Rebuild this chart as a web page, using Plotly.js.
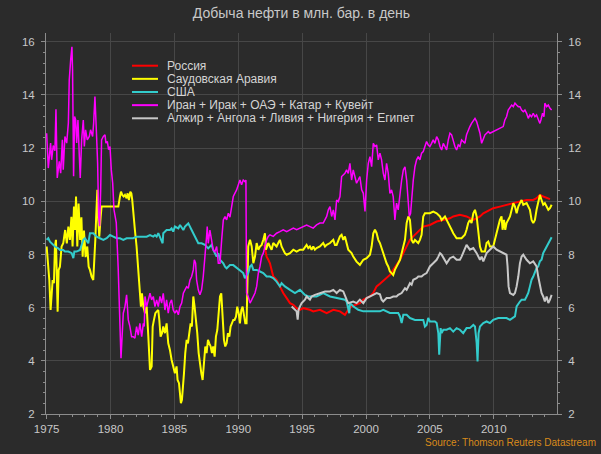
<!DOCTYPE html>
<html><head><meta charset="utf-8">
<script src="https://cdn.plot.ly/plotly-3.0.1.min.js"></script>
<style>html,body{margin:0;padding:0;background:#2b2b2b;}#chart{width:601px;height:454px;}</style>
</head><body><div id="chart"></div>
<script>
// ---- Data ----
const chartTitle = 'Добыча нефти в млн. бар. в день';
const sourceText = 'Source: Thomson Reuters Datastream';
const seriesNames = ['Россия', 'Саудовская Аравия', 'США', 'Иран + Ирак + ОАЭ + Катар + Кувейт', 'Алжир + Ангола + Ливия + Нигерия + Египет'];
const seriesColors = ['#ff0000', '#ffff00', '#33cccc', '#ff00ff', '#c8c8c8'];
const xTickYears = [1975, 1980, 1985, 1990, 1995, 2000, 2005, 2010];
const yTickValues = [2, 4, 6, 8, 10, 12, 14, 16];

const russiaYears = [1992.04,1992.22,1992.35,1992.48,1992.61,1992.74,1993.00,1993.26,1993.52,1993.79,1994.05,1994.31,1994.57,1994.83,1995.09,1995.61,1995.87,1996.39,1996.92,1997.44,1997.96,1998.35,1998.61,1998.87,1999.26,1999.52,1999.79,2000.05,2000.31,2000.57,2000.83,2001.09,2001.35,2001.61,2001.87,2002.13,2002.39,2002.66,2002.92,2003.18,2003.44,2003.70,2003.96,2004.22,2004.48,2005.00,2005.26,2005.53,2006.05,2006.57,2006.83,2007.35,2007.87,2008.13,2008.40,2008.66,2008.92,2009.18,2009.44,2009.70,2009.96,2010.48,2011.00,2011.53,2012.05,2012.57,2013.09,2013.35,2013.61,2013.87,2014.14,2014.40];
const russiaValues = [8.36,7.92,7.80,7.67,7.42,7.17,7.05,6.80,6.55,6.36,6.17,6.11,5.98,5.92,5.98,5.92,5.86,5.92,5.79,5.92,5.86,5.73,5.92,6.05,6.11,6.17,6.30,6.36,6.42,6.55,6.80,6.90,7.00,7.11,7.23,7.42,7.61,7.80,8.05,8.30,8.55,8.68,8.80,8.93,9.05,9.11,9.18,9.24,9.30,9.36,9.43,9.49,9.43,9.36,9.30,9.36,9.43,9.55,9.61,9.68,9.74,9.80,9.87,9.93,9.99,10.05,10.05,10.12,10.24,10.18,10.12,10.08];

const saudiYears = [1975.00,1975.13,1975.21,1975.31,1975.39,1975.47,1975.57,1975.65,1975.73,1975.78,1975.86,1975.94,1976.04,1976.17,1976.30,1976.45,1976.58,1976.70,1976.82,1976.94,1977.03,1977.14,1977.22,1977.30,1977.40,1977.50,1977.62,1977.72,1977.82,1977.92,1978.05,1978.18,1978.29,1978.39,1978.52,1978.65,1978.73,1978.81,1978.89,1978.97,1979.04,1979.12,1979.23,1979.30,1979.44,1980.00,1980.48,1980.61,1980.74,1980.82,1980.92,1981.03,1981.13,1981.26,1981.34,1981.44,1981.55,1981.63,1981.70,1981.78,1981.91,1982.04,1982.17,1982.30,1982.38,1982.46,1982.57,1982.70,1982.83,1982.96,1983.09,1983.22,1983.30,1983.40,1983.51,1983.61,1983.74,1983.82,1983.92,1984.03,1984.13,1984.26,1984.39,1984.52,1984.65,1984.78,1984.91,1985.04,1985.17,1985.25,1985.36,1985.44,1985.51,1985.59,1985.67,1985.75,1985.85,1985.96,1986.06,1986.17,1986.27,1986.37,1986.48,1986.58,1986.69,1986.79,1986.90,1987.00,1987.11,1987.21,1987.31,1987.42,1987.52,1987.63,1987.73,1987.84,1987.94,1988.04,1988.15,1988.25,1988.36,1988.46,1988.57,1988.67,1988.78,1988.88,1988.98,1989.09,1989.19,1989.30,1989.40,1989.51,1989.61,1989.71,1989.82,1989.92,1990.03,1990.13,1990.24,1990.34,1990.44,1990.55,1990.65,1990.70,1990.78,1990.92,1991.05,1991.18,1991.31,1991.44,1991.57,1991.70,1991.83,1991.96,1992.09,1992.17,1992.27,1992.35,1992.48,1992.61,1992.74,1992.87,1993.00,1993.13,1993.26,1993.39,1993.52,1993.65,1993.79,1994.05,1994.31,1994.57,1994.83,1995.09,1995.35,1995.48,1995.61,1995.74,1995.87,1996.00,1996.13,1996.39,1996.65,1996.79,1996.92,1997.18,1997.44,1997.57,1997.70,1997.83,1997.96,1998.09,1998.22,1998.35,1998.48,1998.61,1998.87,1999.00,1999.26,1999.39,1999.52,1999.79,2000.05,2000.31,2000.44,2000.57,2000.70,2000.83,2000.96,2001.09,2001.35,2001.48,2001.61,2001.74,2001.87,2002.00,2002.13,2002.26,2002.39,2002.52,2002.66,2002.79,2002.92,2003.05,2003.18,2003.31,2003.44,2003.57,2003.70,2003.83,2003.96,2004.09,2004.22,2004.35,2004.48,2004.61,2005.00,2005.26,2005.53,2005.79,2005.92,2006.18,2006.31,2006.44,2006.57,2006.70,2006.83,2006.96,2007.09,2007.48,2007.74,2007.87,2008.00,2008.13,2008.26,2008.40,2008.53,2008.66,2008.79,2008.92,2009.05,2009.31,2009.44,2009.57,2009.70,2009.96,2010.09,2010.22,2010.35,2010.48,2010.61,2010.69,2010.80,2010.90,2011.00,2011.27,2011.53,2011.66,2011.79,2011.92,2012.05,2012.18,2012.31,2012.57,2012.83,2012.96,2013.09,2013.22,2013.35,2013.48,2013.61,2013.74,2013.87,2014.00,2014.14,2014.27,2014.40,2014.53];
const saudiValues = [8.30,7.54,7.04,5.91,6.67,7.04,6.92,8.30,8.55,7.67,5.85,7.42,7.54,8.30,8.42,8.92,8.42,9.05,8.55,9.42,8.30,9.80,8.92,10.18,8.30,9.92,8.55,9.40,7.92,8.90,7.90,8.30,7.54,7.42,7.17,7.04,7.67,8.55,9.55,10.43,9.30,8.67,9.42,9.80,9.80,9.80,9.80,9.80,10.18,10.36,10.24,10.18,10.24,10.11,10.30,10.05,10.36,10.30,10.05,9.55,8.92,8.30,7.29,6.67,6.04,6.54,6.04,5.79,6.04,4.91,3.66,3.79,5.29,5.54,5.79,5.85,5.91,5.54,4.91,5.04,5.29,5.04,5.41,4.66,4.41,4.04,3.79,3.53,3.79,3.28,3.16,2.53,2.41,2.53,3.28,3.53,4.29,4.79,4.66,5.16,5.41,5.29,6.42,6.04,5.54,5.04,4.29,3.79,3.53,3.28,3.79,4.54,4.29,4.79,4.66,4.54,4.29,4.54,4.16,4.91,5.16,5.79,6.42,6.54,5.54,4.79,4.54,4.66,5.04,4.91,5.29,5.41,5.54,5.54,5.66,6.04,5.79,5.41,5.91,6.04,5.79,5.41,5.41,6.67,8.30,8.55,8.30,7.67,7.92,8.43,8.18,8.30,8.36,8.55,8.80,8.18,8.30,8.43,8.30,8.18,8.43,8.36,8.30,8.43,8.55,8.30,8.18,8.05,7.99,8.05,8.18,8.11,8.18,8.18,8.36,8.24,8.30,8.18,8.30,8.18,8.24,8.30,8.43,8.30,8.36,8.43,8.55,8.36,8.36,8.55,8.68,8.74,8.55,8.68,8.36,8.18,8.05,7.92,7.73,7.67,7.61,7.80,7.86,7.99,8.30,8.80,8.93,8.80,8.55,8.43,8.05,7.80,7.67,7.55,7.36,7.30,7.23,7.42,7.55,7.67,7.80,8.05,8.30,8.55,9.18,9.43,9.30,8.55,8.43,8.55,8.49,8.43,8.55,8.74,9.43,9.55,9.55,9.61,9.55,9.43,9.30,9.43,9.30,9.18,9.11,8.93,8.80,8.68,8.61,8.61,8.74,8.93,9.18,9.30,9.18,9.55,9.68,9.43,8.93,8.30,8.11,8.11,8.43,8.49,8.30,8.30,8.55,8.80,9.05,9.30,9.43,8.93,9.30,8.93,9.18,9.43,9.93,9.80,9.55,9.80,9.93,10.05,9.87,9.93,9.68,9.30,9.18,9.30,9.68,9.93,10.24,10.05,9.87,9.93,9.80,9.68,9.74,9.87];

const usaYears = [1975.00,1975.13,1975.26,1975.39,1975.52,1975.65,1975.91,1976.04,1976.30,1976.43,1976.70,1976.96,1977.09,1977.17,1977.35,1977.61,1977.87,1978.00,1978.26,1978.39,1978.65,1978.91,1979.17,1979.44,1979.70,1979.96,1980.22,1980.48,1980.74,1981.00,1981.26,1981.52,1981.78,1982.04,1982.30,1982.57,1982.83,1983.09,1983.35,1983.48,1983.61,1983.74,1984.00,1984.08,1984.13,1984.26,1984.39,1984.65,1984.78,1984.91,1985.04,1985.31,1985.44,1985.70,1985.83,1985.96,1986.09,1986.35,1986.48,1986.61,1986.74,1986.87,1987.13,1987.39,1987.65,1987.91,1988.04,1988.31,1988.44,1988.57,1988.83,1988.96,1989.09,1989.35,1989.61,1989.87,1990.13,1990.39,1990.52,1990.65,1990.78,1990.92,1991.05,1991.18,1991.44,1991.70,1991.96,1992.22,1992.48,1992.74,1993.00,1993.26,1993.39,1993.65,1993.92,1994.05,1994.44,1994.83,1995.22,1995.48,1996.13,1996.65,1997.18,1997.70,1998.35,1998.48,1998.69,1998.74,1999.00,1999.39,1999.79,2000.31,2000.70,2001.09,2001.35,2001.87,2002.52,2002.66,2002.79,2002.92,2003.18,2003.44,2003.83,2004.22,2004.48,2004.61,2004.74,2004.87,2005.00,2005.39,2005.53,2005.66,2005.73,2005.84,2005.92,2006.05,2006.31,2006.57,2006.83,2007.09,2007.35,2007.61,2007.87,2008.13,2008.40,2008.53,2008.66,2008.73,2008.81,2008.92,2009.18,2009.44,2009.70,2009.96,2010.35,2010.74,2011.00,2011.27,2011.53,2011.66,2011.79,2011.92,2012.05,2012.18,2012.44,2012.57,2012.70,2012.83,2012.96,2013.09,2013.22,2013.35,2013.48,2013.61,2013.74,2013.87,2014.00,2014.14,2014.27,2014.40,2014.53];
const usaValues = [8.55,8.61,8.48,8.42,8.36,8.30,8.23,8.17,8.17,8.11,8.11,8.05,7.86,8.11,8.11,8.17,8.55,8.61,8.42,8.80,8.80,8.67,8.61,8.55,8.61,8.73,8.67,8.61,8.61,8.55,8.61,8.61,8.61,8.67,8.67,8.67,8.67,8.73,8.67,8.73,8.67,8.80,8.55,8.42,8.80,8.86,8.92,8.92,8.98,8.86,9.05,8.98,9.11,8.92,9.05,9.11,9.17,8.92,8.80,8.67,8.55,8.42,8.42,8.36,8.23,8.36,8.17,7.92,8.05,7.80,7.67,7.54,7.48,7.60,7.60,7.50,7.40,7.30,7.11,7.20,7.30,7.55,7.61,7.42,7.42,7.36,7.30,7.17,7.17,7.11,6.98,6.80,6.92,6.80,6.73,6.67,6.55,6.67,6.48,6.42,6.42,6.55,6.42,6.36,6.30,6.23,5.79,6.17,6.05,5.92,5.86,5.86,5.86,5.86,5.92,5.80,5.80,5.67,5.42,5.73,5.73,5.61,5.54,5.54,5.54,5.29,5.35,5.61,5.48,5.48,5.42,5.04,4.23,5.23,5.04,5.17,5.17,5.23,5.10,5.23,5.17,5.04,5.23,5.23,5.35,5.29,4.67,3.98,5.04,5.29,5.42,5.48,5.42,5.54,5.61,5.61,5.61,5.54,5.61,5.67,6.05,6.17,6.23,6.30,6.30,6.42,6.55,6.80,7.05,7.17,7.30,7.49,7.55,7.74,7.80,8.05,8.17,8.30,8.43,8.57,8.65];

const iranYears = [1975.00,1975.13,1975.31,1975.39,1975.52,1975.65,1975.73,1975.83,1975.99,1976.10,1976.23,1976.30,1976.43,1976.57,1976.70,1976.77,1976.88,1976.98,1977.03,1977.11,1977.19,1977.27,1977.35,1977.45,1977.56,1977.63,1977.74,1977.87,1977.95,1978.05,1978.18,1978.34,1978.44,1978.60,1978.68,1978.78,1978.89,1978.99,1979.07,1979.15,1979.23,1979.30,1979.44,1979.57,1979.64,1979.75,1979.85,1979.96,1980.06,1980.17,1980.27,1980.45,1980.60,1980.74,1980.82,1981.00,1981.13,1981.26,1981.39,1981.52,1981.65,1981.78,1981.91,1982.04,1982.17,1982.30,1982.44,1982.57,1982.64,1982.70,1982.83,1982.96,1983.09,1983.22,1983.35,1983.48,1983.61,1983.74,1983.87,1984.00,1984.13,1984.26,1984.39,1984.52,1984.65,1984.78,1984.91,1985.04,1985.17,1985.31,1985.44,1985.57,1985.70,1985.83,1985.96,1986.09,1986.22,1986.35,1986.48,1986.56,1986.66,1986.74,1986.87,1987.00,1987.13,1987.26,1987.39,1987.52,1987.57,1987.65,1987.78,1987.91,1988.04,1988.17,1988.31,1988.44,1988.57,1988.70,1988.83,1988.96,1989.09,1989.22,1989.35,1989.61,1989.87,1990.13,1990.26,1990.39,1990.52,1990.60,1990.65,1990.78,1990.92,1991.05,1991.18,1991.31,1991.44,1991.57,1991.70,1991.83,1991.96,1992.09,1992.22,1992.35,1992.48,1992.74,1993.00,1993.26,1993.52,1993.79,1994.05,1994.31,1994.57,1994.83,1995.09,1995.35,1995.61,1995.87,1996.13,1996.39,1996.65,1996.92,1997.05,1997.18,1997.31,1997.44,1997.57,1997.70,1997.83,1997.96,1998.09,1998.22,1998.35,1998.48,1998.61,1998.74,1998.87,1999.00,1999.13,1999.26,1999.39,1999.52,1999.66,1999.79,1999.92,2000.05,2000.18,2000.31,2000.44,2000.57,2000.70,2000.83,2000.96,2001.09,2001.22,2001.35,2001.48,2001.61,2001.74,2001.87,2002.00,2002.13,2002.26,2002.39,2002.52,2002.66,2002.79,2002.92,2003.05,2003.18,2003.31,2003.39,2003.49,2003.57,2003.70,2003.83,2003.96,2004.09,2004.22,2004.35,2004.48,2004.61,2004.74,2004.87,2005.00,2005.13,2005.26,2005.39,2005.53,2005.66,2005.79,2005.92,2006.05,2006.18,2006.31,2006.44,2006.57,2006.70,2006.83,2006.96,2007.09,2007.22,2007.35,2007.48,2007.61,2007.74,2007.87,2008.00,2008.13,2008.26,2008.40,2008.53,2008.66,2008.79,2008.92,2009.05,2009.18,2009.31,2009.44,2009.57,2009.70,2009.96,2010.22,2010.48,2010.74,2010.87,2011.00,2011.13,2011.27,2011.40,2011.53,2011.66,2011.79,2011.92,2012.05,2012.18,2012.31,2012.44,2012.57,2012.70,2012.83,2012.96,2013.09,2013.22,2013.35,2013.48,2013.61,2013.69,2013.82,2013.93,2014.00,2014.14,2014.27,2014.40,2014.53];
const iranValues = [12.56,11.25,12.19,11.56,12.10,11.90,13.46,10.88,11.50,11.06,12.31,11.19,12.44,12.19,12.94,14.56,15.31,15.81,14.94,10.94,13.19,13.06,12.19,13.06,11.69,10.88,12.31,13.06,12.06,12.69,12.31,12.44,12.69,12.44,12.94,13.94,12.69,11.44,9.44,9.06,10.44,12.31,12.44,12.50,12.19,12.25,11.94,12.06,11.19,10.69,9.69,9.20,7.50,5.20,4.10,5.79,6.04,6.48,5.54,5.29,4.91,4.91,4.85,5.29,4.97,5.41,4.91,5.41,5.29,6.42,6.04,6.29,6.54,6.29,6.42,6.04,6.29,6.04,6.42,6.17,6.54,5.91,6.29,5.79,6.17,6.29,5.91,5.79,5.91,5.73,6.04,6.17,6.54,6.67,6.79,6.73,7.04,7.17,7.42,7.80,7.67,7.04,6.67,6.48,6.67,7.17,7.80,8.67,9.05,8.42,8.92,8.55,8.17,8.10,8.30,7.67,7.67,8.55,9.30,9.42,9.30,9.55,9.40,10.18,10.43,10.80,10.62,10.80,10.74,10.80,6.55,6.42,6.17,6.29,6.42,6.55,6.80,7.30,7.55,7.92,8.05,8.30,8.55,8.68,8.74,8.68,8.80,8.86,8.93,8.86,8.93,8.99,8.93,8.99,9.05,9.11,9.05,8.99,9.11,9.18,9.18,9.43,9.68,9.80,9.43,9.68,9.30,10.05,9.99,10.18,10.93,10.99,11.05,11.18,11.05,11.43,10.80,11.18,10.93,10.68,10.80,10.93,10.43,10.30,9.62,10.80,11.43,11.68,11.30,12.18,12.06,12.12,11.56,11.81,11.56,11.06,10.80,11.43,11.06,10.30,10.43,10.18,9.30,9.93,9.68,10.30,10.80,11.18,11.30,10.80,9.93,9.43,9.55,10.18,10.80,11.30,11.56,11.68,11.56,11.81,11.87,12.06,12.25,12.12,12.06,12.18,12.31,12.18,12.43,12.31,12.06,11.93,12.18,12.06,11.93,12.31,12.56,12.50,12.25,12.06,11.93,12.12,12.06,12.31,12.25,12.18,12.50,12.68,12.81,12.93,13.06,13.12,13.00,12.81,12.56,12.18,12.31,12.50,12.56,12.62,12.56,12.62,12.68,12.75,12.81,13.06,13.18,13.43,13.56,13.62,13.56,13.69,13.62,13.56,13.56,13.43,13.37,13.43,13.31,13.12,13.25,13.18,13.31,13.18,13.25,13.12,12.93,13.06,13.31,13.18,13.69,13.56,13.62,13.50,13.43];

const africaYears = [1994.18,1994.44,1994.57,1994.65,1994.72,1994.83,1994.96,1995.22,1995.35,1995.61,1995.74,1996.00,1996.39,1996.79,1997.18,1997.44,1997.70,1997.96,1998.22,1998.35,1998.48,1998.61,1999.00,1999.26,1999.52,1999.79,2000.05,2000.44,2000.83,2001.09,2001.22,2001.35,2001.61,2001.87,2002.13,2002.39,2002.52,2002.79,2002.92,2003.05,2003.18,2003.31,2003.44,2003.57,2003.70,2003.96,2004.09,2004.35,2004.48,2004.74,2004.87,2005.00,2005.26,2005.53,2005.66,2005.79,2005.92,2006.18,2006.31,2006.57,2006.83,2007.09,2007.35,2007.48,2007.61,2007.74,2007.87,2008.13,2008.40,2008.66,2008.92,2009.05,2009.18,2009.44,2009.70,2009.96,2010.22,2010.48,2010.74,2011.00,2011.08,2011.16,2011.27,2011.53,2011.66,2011.79,2011.92,2012.05,2012.18,2012.31,2012.57,2012.83,2013.09,2013.35,2013.48,2013.61,2013.74,2013.87,2014.00,2014.14,2014.27,2014.40,2014.53];
const africaValues = [6.04,5.92,5.86,5.55,5.92,6.05,6.17,6.30,6.42,6.30,6.42,6.48,6.55,6.61,6.61,6.67,6.55,6.67,6.61,6.42,6.30,6.17,6.23,6.17,6.30,6.17,6.36,6.45,6.55,6.50,6.30,6.23,6.36,6.36,6.42,6.42,6.48,6.55,6.67,6.73,6.67,6.80,6.92,6.86,7.05,7.11,7.17,7.17,7.23,7.30,7.42,7.55,7.67,7.80,7.92,8.05,7.99,7.80,7.67,7.86,7.92,7.80,7.80,7.92,8.05,8.24,8.36,8.18,8.24,8.05,7.80,7.92,7.74,8.05,8.18,8.30,8.18,8.11,8.05,7.99,7.55,6.80,6.55,6.48,6.55,6.80,7.17,7.67,7.92,7.99,7.80,7.67,7.74,7.55,7.17,6.80,6.55,6.42,6.23,6.42,6.17,6.30,6.48];

const seriesYears = [russiaYears, saudiYears, usaYears, iranYears, africaYears];
const seriesValues = [russiaValues, saudiValues, usaValues, iranValues, africaValues];
const seriesWidths = [2, 2, 2, 1.5, 2];

// ---- Traces ----
const traces = seriesNames.map((name, i) => ({
  type: 'scatter', mode: 'lines', name: name,
  x: seriesYears[i], y: seriesValues[i],
  line: {color: seriesColors[i], width: seriesWidths[i]},
  hoverinfo: 'skip', showlegend: false,
  yaxis: i === seriesNames.length - 1 ? 'y2' : 'y'
}));

// ---- Layout ----
const W = 601, H = 454;
const M = {l: 46, r: 44, t: 33, b: 40};
const plotW = W - M.l - M.r, plotH = H - M.t - M.b;
const px2x = px => (px - M.l) / plotW;
const py2y = py => (H - M.b - py) / plotH;

const axisColor = '#8c8c8c';
const gridColor = '#474747';
const textColor = '#c8c8c8';
const yRange = [2, 16.33];

const yCommon = {
  range: yRange, tickvals: yTickValues, ticks: 'outside', ticklen: 4, tickcolor: axisColor,
  showline: true, linecolor: axisColor, linewidth: 1, zeroline: false,
  tickfont: {size: 11.5, color: textColor}, ticklabelstandoff: 4,
  minor: {dtick: 0.4, tick0: 2, ticks: 'outside', ticklen: 2, tickcolor: axisColor, showgrid: false}
};

const shapes = [], annotations = [];
const legLineX0 = 132, legLineX1 = 158, legTextX = 165, legRow0 = 65.7, legGap = 13.15;
seriesNames.forEach((name, i) => {
  const yy = py2y(legRow0 + i * legGap);
  shapes.push({type: 'line', xref: 'paper', yref: 'paper', x0: px2x(legLineX0), x1: px2x(legLineX1), y0: yy, y1: yy,
    line: {color: seriesColors[i], width: 2}});
  annotations.push({xref: 'paper', yref: 'paper', x: px2x(legTextX), y: yy, xanchor: 'left', yanchor: 'middle',
    text: name, showarrow: false, font: {size: 12, color: '#d4d4d4'}});
});
annotations.push({xref: 'paper', yref: 'paper', x: px2x(598), y: py2y(442), xanchor: 'right', yanchor: 'middle',
  text: sourceText, showarrow: false, font: {size: 10, color: '#d98a1a'}});

const layout = {
  width: W, height: H, margin: M,
  paper_bgcolor: '#2b2b2b', plot_bgcolor: '#2b2b2b',
  font: {family: '"Liberation Sans", Arial, sans-serif', color: textColor, size: 11.5},
  title: {text: chartTitle, font: {size: 14, color: textColor}, x: 0.5, xref: 'paper', xanchor: 'center',
    y: 1 - 13 / H, yref: 'container', yanchor: 'middle'},
  showlegend: false,
  xaxis: {
    range: [1974.95, 2014.95], tickvals: xTickYears, ticks: 'outside', ticklen: 4, tickcolor: axisColor,
    showline: true, linecolor: axisColor, linewidth: 1, showgrid: true, gridcolor: gridColor, gridwidth: 1,
    zeroline: false, tickfont: {size: 11.5, color: textColor},
    minor: {dtick: 1, tick0: 1975, ticks: 'outside', ticklen: 2, tickcolor: axisColor, showgrid: false}
  },
  yaxis: Object.assign({}, yCommon, {showgrid: true, gridcolor: gridColor, gridwidth: 1}),
  yaxis2: Object.assign({}, yCommon, {overlaying: 'y', side: 'right', anchor: 'x', showgrid: false}),
  shapes: shapes, annotations: annotations
};

Plotly.newPlot('chart', traces, layout, {displayModeBar: false, staticPlot: true});
</script></body></html>
